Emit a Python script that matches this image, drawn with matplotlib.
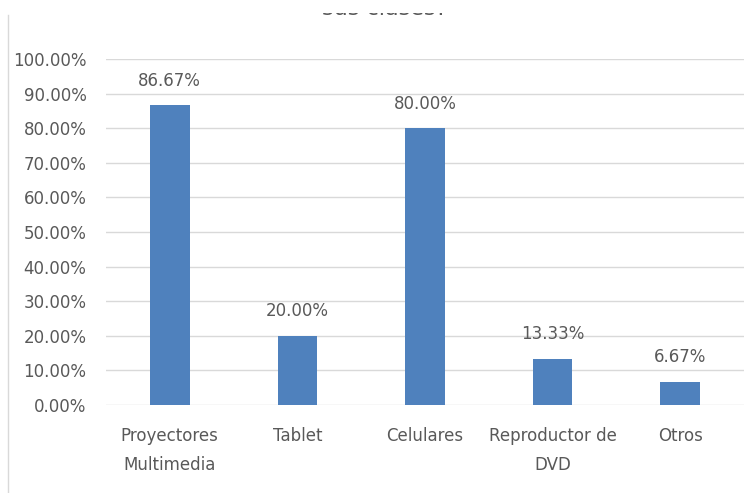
import matplotlib.pyplot as plt
from matplotlib.ticker import PercentFormatter
from matplotlib.lines import Line2D
from matplotlib.patches import Rectangle

# data
categorias = ['Proyectores\nMultimedia', 'Tablet', 'Celulares', 'Reproductor de\nDVD', 'Otros']
valores = [86.67, 20.00, 80.00, 13.33, 6.67]

GRIS = '#595959'
AZUL = '#4f81bd'

fig = plt.figure(figsize=(7.54, 4.93), dpi=100)
ax = fig.add_axes([106/754, 1 - 405/493, 638/754, (405 - 59)/493])

x = range(len(categorias))
ax.bar(x, valores, width=0.31, color=AZUL, zorder=3)

for xi, v in zip(x, valores):
    ax.text(xi, v + 4.5, '%.2f%%' % v, ha='center', va='bottom',
            fontsize=12, color=GRIS)

ax.set_xlim(-0.5, len(categorias) - 0.5)
ax.set_ylim(0, 100)
ax.set_yticks(range(0, 101, 10))
ax.yaxis.set_major_formatter(PercentFormatter(decimals=2))
ax.set_xticks(list(x))
ax.set_xticklabels(categorias, linespacing=1.75)
ax.tick_params(length=0, labelsize=12, labelcolor=GRIS)
ax.tick_params(axis='x', pad=16)
ax.tick_params(axis='y', pad=14)
ax.grid(axis='y', color='#d9d9d9', linewidth=1, zorder=0)
for s in ax.spines.values():
    s.set_visible(False)

# chart border on the left and the cut-off title at the top
fig.add_artist(Line2D([8/754, 8/754], [0, 1 - 15/493], color='#d9d9d9', linewidth=1))
fig.text(385/754, 1 - 15/493, 'sus clases?', ha='center', va='baseline',
         fontsize=16, color=GRIS, zorder=1)
# the picture was cropped through the title, keep only its lower edge
fig.add_artist(Rectangle((0, 1 - 13/493), 1, 13/493, transform=fig.transFigure,
                         facecolor='white', edgecolor='none', zorder=5))

fig.savefig('out.png', dpi=100)
